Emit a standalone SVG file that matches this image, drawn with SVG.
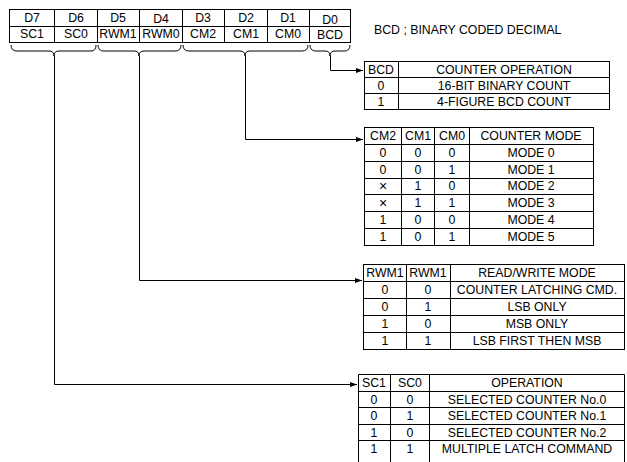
<svg xmlns="http://www.w3.org/2000/svg" width="627" height="462" viewBox="0 0 627 462">
<defs>
<style>
text{font-family:"Liberation Sans",Arial,sans-serif;font-size:12.3px;fill:#000;text-anchor:middle;dominant-baseline:central}
.x{font-size:14px}
.b{fill:none;stroke:#000;stroke-width:1}
.c{fill:none;stroke:#000;stroke-width:1}
</style>
<marker id="ar" markerWidth="8" markerHeight="6" refX="7" refY="3" orient="auto" markerUnits="userSpaceOnUse">
<path d="M0,0.5 L7,3 L0,5.5 Z" fill="#000"/>
</marker>
</defs>
<rect width="627" height="462" fill="#fff"/>

<g id="register">
<rect class="b" x="9.5" y="9.5" width="341" height="33"/>
<path class="b" d="M9.5,26.5 H350.5 M54.5,9.5 V42.5 M97.5,9.5 V42.5 M139.5,9.5 V42.5 M182.5,9.5 V42.5 M224.5,9.5 V42.5 M267.5,9.5 V42.5 M309.5,9.5 V42.5"/>
<text x="32" y="18">D7</text><text x="76" y="18">D6</text><text x="118" y="18">D5</text><text x="161" y="19">D4</text>
<text x="203" y="18">D3</text><text x="246" y="18">D2</text><text x="288" y="18">D1</text><text x="330" y="20">D0</text>
<text x="32" y="34">SC1</text><text x="76" y="34">SC0</text><text x="118" y="34">RWM1</text><text x="161" y="34">RWM0</text>
<text x="203" y="34">CM2</text><text x="246" y="34">CM1</text><text x="288" y="34">CM0</text><text x="330" y="35">BCD</text>
</g>

<g id="braces">
<path class="b" d="M11,45 Q11,51 17,51 H49 Q54,51 54,56 Q54,51 59,51 H91 Q96,51 96,45"/>
<path class="b" d="M98,45 Q98,51 104,51 H134 Q139,51 139,56 Q139,51 144,51 H175 Q181,51 181,45"/>
<path class="b" d="M183,45 Q183,51 189,51 H240 Q245,51 245,56 Q245,51 250,51 H302 Q308,51 308,45"/>
<path class="b" d="M310,45 Q310,51 316,51 H325 Q330,51 330,56 Q330,51 335,51 H344 Q350,51 350,45"/>
</g>

<text x="374" y="30" style="text-anchor:start">BCD ; BINARY CODED DECIMAL</text>

<g id="connectors">
<path class="c" d="M330.5,56 V70.5 H363" marker-end="url(#ar)"/>
<path class="c" d="M245.5,56 V139.5 H363" marker-end="url(#ar)"/>
<path class="c" d="M139.5,56 V280.5 H362" marker-end="url(#ar)"/>
<path class="c" d="M54.5,56 V384.5 H357" marker-end="url(#ar)"/>
</g>

<g id="bcd-table">
<rect class="b" x="364.5" y="61.5" width="245" height="48"/>
<path class="b" d="M364.5,77.5 H609.5 M364.5,93.5 H609.5 M398.5,61.5 V109.5"/>
<text x="381" y="69.5">BCD</text><text x="504" y="69.5">COUNTER OPERATION</text>
<text x="381" y="85.5">0</text><text x="504" y="85.5">16-BIT BINARY COUNT</text>
<text x="381" y="101.5">1</text><text x="504" y="101.5">4-FIGURE BCD COUNT</text>
</g>

<g id="cm-table">
<rect class="b" x="364.5" y="127.5" width="229" height="118"/>
<path class="b" d="M364.5,144.5 H593.5 M364.5,161.5 H593.5 M364.5,178.5 H593.5 M364.5,194.5 H593.5 M364.5,211.5 H593.5 M364.5,228.5 H593.5 M401.5,127.5 V245.5 M434.5,127.5 V245.5 M469.5,127.5 V245.5"/>
<text x="383" y="136">CM2</text><text x="418" y="136">CM1</text><text x="452" y="136">CM0</text><text x="531" y="136">COUNTER MODE</text>
<text x="383" y="153">0</text><text x="418" y="153">0</text><text x="452" y="153">0</text><text x="531" y="153">MODE 0</text>
<text x="383" y="170">0</text><text x="418" y="170">0</text><text x="452" y="170">1</text><text x="531" y="170">MODE 1</text>
<text class="x" x="383" y="186">×</text><text x="418" y="186">1</text><text x="452" y="186">0</text><text x="531" y="186">MODE 2</text>
<text class="x" x="383" y="203">×</text><text x="418" y="203">1</text><text x="452" y="203">1</text><text x="531" y="203">MODE 3</text>
<text x="383" y="220">1</text><text x="418" y="220">0</text><text x="452" y="220">0</text><text x="531" y="220">MODE 4</text>
<text x="383" y="237">1</text><text x="418" y="237">0</text><text x="452" y="237">1</text><text x="531" y="237">MODE 5</text>
</g>

<g id="rw-table">
<rect class="b" x="363.5" y="264.5" width="261" height="85"/>
<path class="b" d="M363.5,281.5 H624.5 M363.5,298.5 H624.5 M363.5,315.5 H624.5 M363.5,332.5 H624.5 M406.5,264.5 V349.5 M450.5,264.5 V349.5"/>
<text x="385" y="273">RWM1</text><text x="428" y="273">RWM1</text><text x="537" y="273">READ/WRITE MODE</text>
<text x="385" y="290">0</text><text x="428" y="290">0</text><text x="537" y="290">COUNTER LATCHING CMD.</text>
<text x="385" y="307">0</text><text x="428" y="307">1</text><text x="537" y="307">LSB ONLY</text>
<text x="385" y="324">1</text><text x="428" y="324">0</text><text x="537" y="324">MSB ONLY</text>
<text x="385" y="341">1</text><text x="428" y="341">1</text><text x="537" y="341">LSB FIRST THEN MSB</text>
</g>

<g id="sc-table">
<path class="b" d="M358.5,462 V374.5 H624.5 V462 M358.5,391.5 H624.5 M358.5,407.5 H624.5 M358.5,424.5 H624.5 M358.5,440.5 H624.5 M390.5,374.5 V462 M429.5,374.5 V462"/>
<text x="374" y="383">SC1</text><text x="410" y="383">SC0</text><text x="527" y="383">OPERATION</text>
<text x="374" y="399.5">0</text><text x="410" y="399.5">0</text><text x="527" y="399.5">SELECTED COUNTER No.0</text>
<text x="374" y="416">0</text><text x="410" y="416">1</text><text x="527" y="416">SELECTED COUNTER No.1</text>
<text x="374" y="432.5">1</text><text x="410" y="432.5">0</text><text x="527" y="432.5">SELECTED COUNTER No.2</text>
<text x="374" y="449">1</text><text x="410" y="449">1</text><text x="527" y="449">MULTIPLE LATCH COMMAND</text>
</g>
</svg>
